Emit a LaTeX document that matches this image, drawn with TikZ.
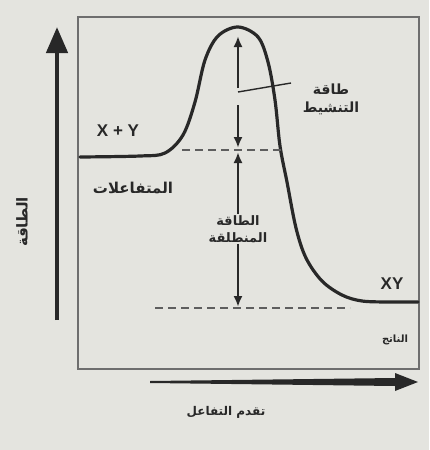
\documentclass[tikz,border=0pt]{standalone}
\usepackage{fontspec}
\usepackage{tikz}
\usetikzlibrary{arrows.meta,positioning}
\setmainfont{Liberation Sans}
\newfontfamily\arabicfont[Script=Arabic]{DejaVu Sans}
\TeXXeTstate=1
\newcommand{\rtl}[1]{\beginR#1\endR}
\newcommand{\arsize}[1]{\arabicfont\bfseries\fontsize{#1}{#1}\selectfont}
\definecolor{paper}{RGB}{228,228,223}
\definecolor{ink}{RGB}{40,40,40}
\definecolor{framegray}{RGB}{110,110,110}
\tikzset{
  curve/.style={draw=ink,line width=3.2pt,line cap=round},
  level/.style={draw=ink!75,line width=1.4pt,dash pattern=on 8pt off 5pt},
  gap/.style={draw=ink,line width=2.4pt,-{Latex[length=11pt,width=9pt]}},
  artext/.style={font=\arsize{14},text=ink,align=center,inner sep=1pt},
  latext/.style={font=\bfseries\fontsize{17}{20}\selectfont,text=ink,inner sep=1pt},
}

\begin{document}
\begin{tikzpicture}[x=1pt,y=-1pt]
  \fill[paper] (0,0) rectangle (429,450);
  \useasboundingbox (0,0) rectangle (429,450);
  % frame and axes
  \draw[framegray,line width=1.3pt] (78,17) rectangle (419,369);
  \coordinate (ybot) at (57,320);
  \coordinate (ytop) at (57,27);
  \draw[ink,line width=4.5pt,-{Triangle[length=26pt,width=21pt]}] (ybot) -- (ytop);
  \coordinate (xl) at (150,382);
  \coordinate (xr) at (418,382);
  \fill[ink] (xl) ++(0,-1) -- (395,378) -- (395,373) -- (xr) -- (395,391) -- (395,386) -- (150,383) -- cycle;
  % energy profile
  \draw[curve] plot[smooth,tension=0.55] coordinates {
    (80,157) (140,156) (165,153) (183,135) (195,102) (205,60) (218,36) (238,27)
    (258,37) (268,62) (275,100) (280,146) (287,182) (296,228) (306,258)
    (322,281) (342,295) (362,301) (390,302) (418,302)};
  % levels
  \coordinate (reacL) at (182,150);
  \coordinate (reacR) at (281,150);
  \coordinate (prodL) at (155,308);
  \coordinate (prodR) at (350,308);
  \draw[level] (reacL) -- (reacR);
  \draw[level] (prodL) -- (prodR);
  % labels
  \node[latext] (xy1) at (118,131) {X + Y};
  \node[artext,font=\arsize{15}] (reac) at (133,188) {\rtl{المتفاعلات}};
  \node[latext] (xy2) at (392,284) {XY};
  \node[artext,font=\arsize{10}] (prod) at (395,340) {\rtl{الناتج}};
  \node[artext,font=\arsize{14}] (act) at (331,99) {\rtl{طاقة}\\[4pt]\rtl{التنشيط}};
  \node[artext,font=\arsize{13}] (rel) at (238,229) {\rtl{الطاقة}\\[4pt]\rtl{المنطلقة}};
  \node[artext,font=\arsize{12}] (xlab) at (226,412) {\rtl{تقدم التفاعل}};
  \node[artext,font=\arsize{15},rotate=90] (ylab) at (22,222) {\rtl{الطاقة}};
  % energy gaps
  \coordinate (peak) at (238,36);
  \coordinate (tick) at (238,92);
  \coordinate (lead) at (291,83);
  \draw[gap] (238,88) -- (peak);
  \draw[ink,line width=1.4pt] (tick) -- (lead);
  \draw[gap] (238,105) -- (238,148);
  \draw[gap] (rel.north) -- (238,152);
  \draw[gap] (rel.south) -- (238,307);
\end{tikzpicture}
\end{document}
